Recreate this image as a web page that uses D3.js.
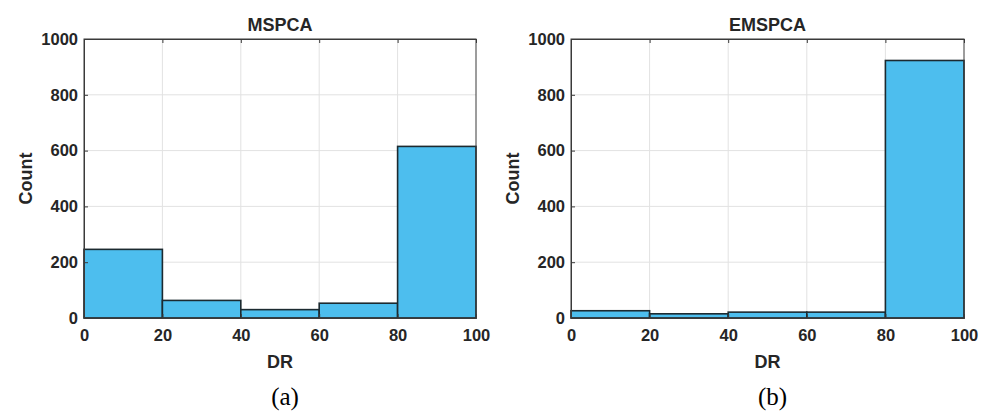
<!DOCTYPE html>
<html>
<head>
<meta charset="utf-8">
<script src="https://d3js.org/d3.v7.min.js"></script>
<style>
  body { margin: 0; background: #fff; }
  svg text { fill: #262626; }
</style>
</head>
<body>
<div id="chart"></div>
<script>
// bin edges and counts
const binEdges = [0, 20, 40, 60, 80, 100];
const mspcaCounts = [246, 63, 30, 53, 615];
const emspcaCounts = [26, 15, 21, 21, 923];
const xTicks = [0, 20, 40, 60, 80, 100];
const yTicks = [0, 200, 400, 600, 800, 1000];
const titles = ["MSPCA", "EMSPCA"];
const captions = ["(a)", "(b)"];

const W = 986, H = 412;
const svg = d3.select("#chart").append("svg")
    .attr("width", W).attr("height", H);

const panels = [
  { left: 84, right: 476, counts: mspcaCounts },
  { left: 571, right: 964, counts: emspcaCounts }
];
const plotTop = 39, plotBottom = 318;
const sans = "Arial, 'Liberation Sans', sans-serif";

panels.forEach(function (p, i) {
  const x = d3.scaleLinear().domain([0, 100]).range([p.left, p.right]);
  const y = d3.scaleLinear().domain([0, 1000]).range([plotBottom, plotTop]);
  const g = svg.append("g");

  // grid
  g.selectAll(".gx").data(xTicks.slice(1, -1)).enter().append("line")
    .attr("x1", d => x(d)).attr("x2", d => x(d))
    .attr("y1", plotTop).attr("y2", plotBottom)
    .attr("stroke", "#e2e2e2").attr("stroke-width", 1);
  g.selectAll(".gy").data(yTicks.slice(1, -1)).enter().append("line")
    .attr("x1", p.left).attr("x2", p.right)
    .attr("y1", d => y(d)).attr("y2", d => y(d))
    .attr("stroke", "#e2e2e2").attr("stroke-width", 1);

  // bars
  const bins = p.counts.map((c, k) => ({ x0: binEdges[k], x1: binEdges[k + 1], c: c }));
  g.selectAll("rect.bar").data(bins).enter().append("rect")
    .attr("x", d => x(d.x0))
    .attr("y", d => y(d.c))
    .attr("width", d => x(d.x1) - x(d.x0))
    .attr("height", d => y(0) - y(d.c))
    .attr("fill", "#4DBEEE")
    .attr("stroke", "#1c2a30")
    .attr("stroke-width", 1.6);

  // axes box
  g.append("rect")
    .attr("x", p.left).attr("y", plotTop)
    .attr("width", p.right - p.left).attr("height", plotBottom - plotTop)
    .attr("fill", "none").attr("stroke", "#3a3a3a").attr("stroke-width", 1);

  const xAxis = g.append("g")
    .attr("transform", `translate(0,${plotBottom})`)
    .call(d3.axisBottom(x).tickValues(xTicks).tickSize(-4).tickPadding(11).tickFormat(d3.format("d")));
  const yAxis = g.append("g")
    .attr("transform", `translate(${p.left},0)`)
    .call(d3.axisLeft(y).tickValues(yTicks).tickSize(-4).tickPadding(6).tickFormat(d3.format("d")));
  // ticks on top edge
  g.append("g")
    .attr("transform", `translate(0,${plotTop})`)
    .call(d3.axisTop(x).tickValues(xTicks).tickSize(-4).tickFormat(""));

  [xAxis, yAxis].forEach(a => {
    a.selectAll("text")
      .style("font-family", sans)
      .style("font-size", "16.5px").style("font-weight", "bold")
      .style("fill", "#262626");
  });
  g.selectAll(".domain").attr("stroke", "#3a3a3a");
  g.selectAll(".tick line").attr("stroke", "#3a3a3a");

  const cx = (p.left + p.right) / 2;
  g.append("text")
    .attr("x", cx).attr("y", 31)
    .attr("text-anchor", "middle")
    .style("font-family", sans)
    .style("font-size", "18px").style("font-weight", "bold")
    .text(titles[i]);

  g.append("text")
    .attr("x", cx).attr("y", 368)
    .attr("text-anchor", "middle")
    .style("font-family", sans)
    .style("font-size", "18px").style("font-weight", "bold")
    .text("DR");

  g.append("text")
    .attr("transform", `translate(${p.left - 58},${(plotTop + plotBottom) / 2}) rotate(-90)`)
    .attr("text-anchor", "middle")
    .attr("dy", "0.35em")
    .style("font-family", sans)
    .style("font-size", "18px").style("font-weight", "bold")
    .text("Count");

  g.append("text")
    .attr("x", cx + 5).attr("y", 405)
    .attr("text-anchor", "middle")
    .style("font-family", "'Liberation Serif', 'Times New Roman', serif")
    .style("font-size", "25px")
    .style("fill", "#000")
    .text(captions[i]);
});
</script>
</body>
</html>
